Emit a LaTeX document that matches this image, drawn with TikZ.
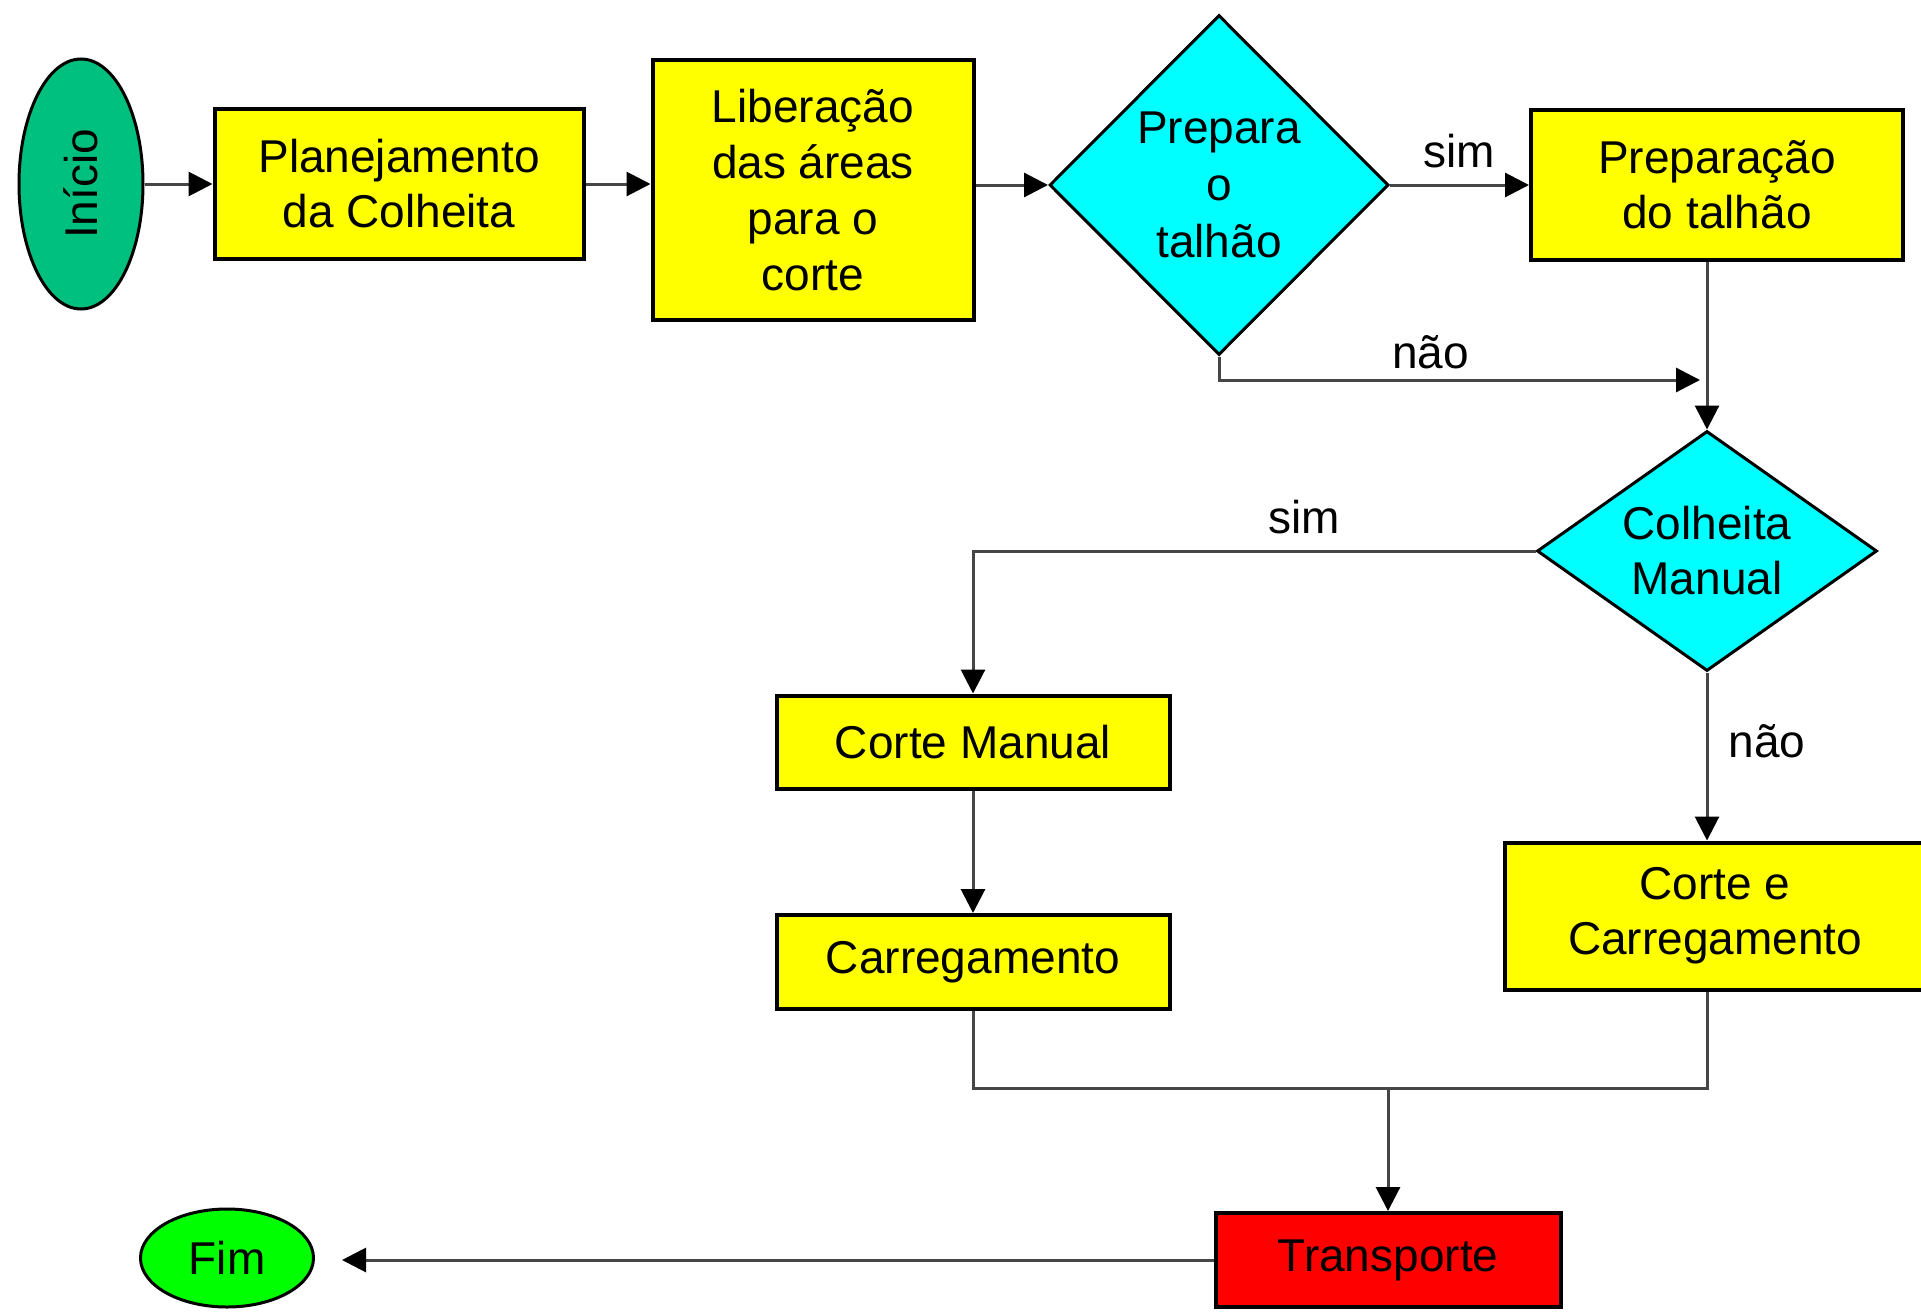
\documentclass[tikz,border=0pt]{standalone}
\usepackage{fontspec}
\setmainfont{Liberation Sans}
\usetikzlibrary{positioning,shapes.geometric,arrows.meta}
\definecolor{inigreen}{RGB}{0,192,128}
\definecolor{fimgreen}{RGB}{0,255,0}
\definecolor{boxyellow}{RGB}{255,255,0}
\definecolor{decicyan}{RGB}{0,255,255}
\definecolor{transred}{RGB}{255,0,0}
\definecolor{linegray}{RGB}{70,70,70}
\tikzset{
	box/.style={
		rectangle,
		draw,
		line width=2pt,
		fill=boxyellow,
		align=center,
		inner sep=0pt
	},
	decision/.style={
		diamond,
		draw,
		line width=1.5pt,
		fill=decicyan,
		align=center,
		inner sep=0pt
	},
	terminal/.style={ellipse, draw, line width=1.5pt, inner sep=0pt},
	flow/.style={draw=linegray, line width=1.5pt, -{Triangle[length=12pt,width=12pt,color=black]}},
	link/.style={draw=linegray, line width=1.5pt},
	answer/.style={inner sep=0pt}
}
\begin{document}
\begin{tikzpicture}[x=0.5pt, y=-0.5pt, font=\fontsize{23pt}{27.5pt}\selectfont]
	\useasboundingbox (0,0) rectangle (1921,1311);
	% top row
	\node [terminal, fill=inigreen, minimum width=62pt, minimum height=125pt] (inicio) at (81,184) {\rotatebox{90}{Início}};
	\node [box, minimum width=184.5pt, minimum height=74.5pt] (planej) at (399,184) {Planejamento\\da Colheita};
	\node [box, minimum width=160.5pt, minimum height=129.5pt, font=\fontsize{23pt}{28pt}\selectfont] (liber) at (813,190) {Liberação\\das áreas\\para o\\corte};
	\node [decision, minimum width=169.5pt, minimum height=170pt, font=\fontsize{23pt}{28.5pt}\selectfont] (prepara) at (1219,185) {Prepara\\o\\talhão};
	\node [box, minimum width=186pt, minimum height=75pt] (preptal) at (1717,185) {Preparação\\do talhão};
	% decision on harvest
	\node [decision, shape aspect=1.42, minimum width=170pt, minimum height=120pt] (colheita) at (1707,551) {Colheita\\Manual};
	\node [box, minimum width=196.5pt, minimum height=46.5pt] (cortman) at (973,742) {Corte Manual};
	\node [box, minimum width=196.5pt, minimum height=47pt] (carreg) at (973,962) {Carregamento};
	\node [box, minimum width=210pt, minimum height=73.5pt] (cortcarr) at (1715,916) {Corte e\\Carregamento};
	% end
	\node [box, fill=transred, minimum width=172.5pt, minimum height=47pt] (transp) at (1388,1260) {Transporte};
	\node [terminal, fill=fimgreen, minimum width=86.5pt, minimum height=49pt] (fim) at (227,1258) {Fim};
	\coordinate (naoend) at (1700,380);
	\coordinate (merge) at (1388,1088);

	% connectors
	\draw [flow] (inicio) -- (planej);
	\draw [flow] (planej.east) -- (planej.east -| liber.west);
	\draw [flow] (prepara.west -| liber.east) -- (prepara.west);
	\draw [flow] (prepara.east) -- node [answer, above=8pt] (simprep) {sim} (preptal.west);
	\draw [flow] (prepara.south) |- node [answer, pos=0.72, above=5pt] (naoprep) {não} (naoend);
	\draw [flow] (preptal.south -| colheita.north) -- (colheita.north);
	\draw [flow] (colheita.west) -| node [answer, pos=0.206, above=8pt] (simcolh) {sim} (cortman.north);
	\draw [flow] (cortman) -- (carreg);
	\draw [flow] (colheita.south) -- node [answer, pos=0.41, right=10pt] (naocolh) {não} (colheita.south |- cortcarr.north);
	\draw [link] (carreg.south) |- (merge) -| (colheita.south |- cortcarr.south);
	\draw [flow] (merge) -- (transp.north);
	\draw [flow, shorten >=13.5pt] (transp.west) -- (transp.west -| fim.east);
\end{tikzpicture}
\end{document}
